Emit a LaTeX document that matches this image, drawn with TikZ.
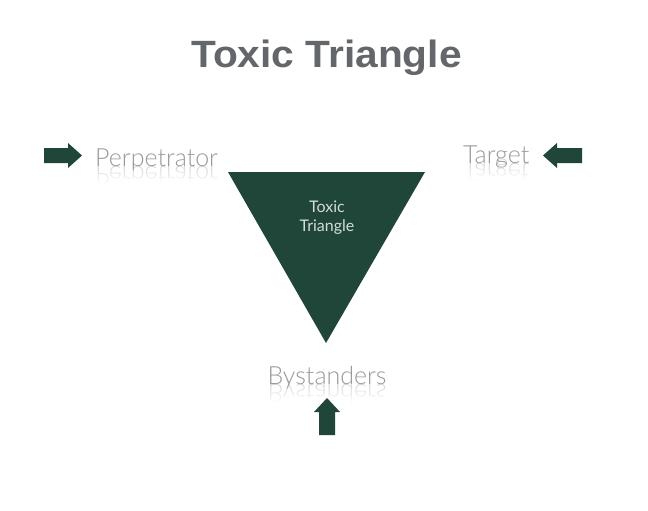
\documentclass[tikz,border=0pt]{standalone}
\usepackage{fontspec}
\setmainfont{Liberation Sans}
\IfFontExistsTF{Lato Light}{\newfontfamily\latofont{Lato Light}}{\newfontfamily\latofont{Lato}}
\newfontfamily\latoreg{Lato}
\usetikzlibrary{fadings}
\definecolor{tgreen}{HTML}{1F4638}
\definecolor{lblgray}{HTML}{999999}
\definecolor{ttlgray}{HTML}{63666A}
\definecolor{intext}{HTML}{D5DCD8}
\tikzset{
  blockarrow/.style={fill=tgreen, draw=none},
  lbl/.style={text=lblgray, font=\latofont\fontsize{25}{30}\selectfont, inner sep=0pt},
  lblrefl/.style={lbl, yscale=-1, text opacity=0.4},
  fadebox/.style={fill=white, draw=none, path fading=north},
}
\begin{document}
\begin{tikzpicture}[x=1pt,y=-1pt]
\useasboundingbox (0,0) rectangle (648,511);
\fill[white] (0,0) rectangle (648,511);

% title
\node[anchor=base, inner sep=0pt, text=ttlgray, xscale=1.07, font=\bfseries\fontsize{38}{46}\selectfont] (title) at (326.5,67) {Toxic Triangle};

% triangle
\coordinate (tl) at (228,172);
\coordinate (tr) at (425,172);
\coordinate (tb) at (326,343);
\fill[tgreen] (tl) -- (tr) -- (tb) -- cycle;
\node[align=center, text=intext, font=\latoreg\fontsize{16}{18.5}\selectfont, inner sep=0pt, anchor=base] (inner) at (327,231) {Toxic\\Triangle};

% labels with reflections
\node[lbl, anchor=base west] (perp) at (95,166) {Perpetrator};
\node[lblrefl, anchor=base west] (perpR) at (95,166) {Perpetrator};
\fill[fadebox] (93,166) rectangle (224,184);

\node[lbl, anchor=base west] (targ) at (463,163) {Target};
\node[lblrefl, anchor=base west] (targR) at (463,163) {Target};
\fill[fadebox] (461,163) rectangle (535,181);

\node[lbl, anchor=base] (bys) at (327,384) {Bystanders};
\node[lblrefl, anchor=base] (bysR) at (327,384) {Bystanders};
\fill[fadebox] (265,384) rectangle (390,402);

% arrows
\fill[blockarrow] (44,148) -- (68,148) -- (68,143) -- (82,155.5) -- (68,168) -- (68,163) -- (44,163) -- cycle;
\fill[blockarrow] (582,148) -- (557,148) -- (557,143) -- (543,155.5) -- (557,168) -- (557,163) -- (582,163) -- cycle;
\fill[blockarrow] (319,435) -- (319,412) -- (314,412) -- (327,398) -- (340,412) -- (335,412) -- (335,435) -- cycle;
\end{tikzpicture}
\end{document}
